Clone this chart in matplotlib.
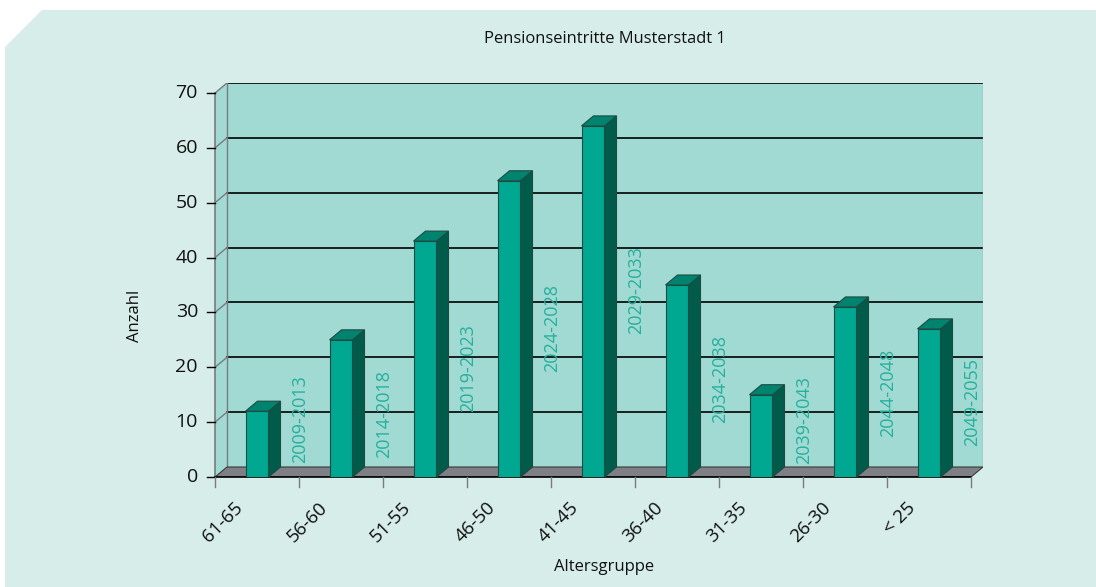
import matplotlib
matplotlib.use("Agg")
import matplotlib.pyplot as plt
from matplotlib.patches import Polygon, Rectangle

# data
groups = ["61-65", "56-60", "51-55", "46-50", "41-45", "36-40", "31-35", "26-30", "< 25"]
counts = [12, 25, 43, 54, 64, 35, 15, 31, 27]
periods = ["2009-2013", "2014-2018", "2019-2023", "2024-2028", "2029-2033",
           "2034-2038", "2039-2043", "2044-2048", "2049-2055"]
period_y = [2.5, 3.5, 11.9, 19.2, 26.0, 9.8, 2.4, 7.3, 5.7]
yticks = [0, 10, 20, 30, 40, 50, 60, 70]

plt.rcParams['font.family'] = ['Open Sans', 'DejaVu Sans']

W, H = 1096, 587
fig = plt.figure(figsize=(W / 100, H / 100), dpi=100)
fig.patch.set_facecolor("white")

# light panel with cut corner
panel = [(5, 47), (42, 10), (1096, 10), (1096, 587), (5, 587)]
fig.patches.append(Polygon([(x / W, 1 - y / H) for x, y in panel], closed=True,
                           transform=fig.transFigure, facecolor="#d7ede9",
                           edgecolor="none", zorder=-5))

DX = 12 / 84.0        # depth offset in category units
DY = 10 / 5.4857      # depth offset in value units
n = len(groups)
ymax = yticks[-1]

ax = fig.add_axes([215 / W, 110 / H, 768 / W, 394 / H])
ax.set_zorder(1)
ax.set_xlim(0, n + DX)
ax.set_ylim(0, ymax + DY)
ax.axis("off")

wall = "#a1d9d3"
gray = "#7a7a80"
ax.add_patch(Rectangle((DX, DY), n, ymax, facecolor=wall, edgecolor="none", zorder=1))
ax.add_patch(Polygon([(0, 0), (DX, DY), (DX, ymax + DY), (0, ymax)], closed=True,
                     facecolor=wall, edgecolor="none", zorder=1))

for v in yticks[1:]:
    ax.plot([DX, n + DX], [v + DY, v + DY], color="black", lw=1.2, zorder=2)
    ax.plot([0, DX], [v, v + DY], color=gray, lw=1, zorder=2)
ax.plot([DX, DX], [DY, ymax + DY], color=gray, lw=1, zorder=2)
ax.plot([n + DX, n + DX], [DY, ymax + DY], color="#9aa4a4", lw=1, zorder=2)
ax.plot([0, 0], [0, ymax], color=gray, lw=1.2, zorder=2, clip_on=False)

# floor
ax.add_patch(Polygon([(0, 0), (n, 0), (n + DX, DY), (DX, DY)], closed=True,
                     facecolor="#7f7f86", edgecolor="#3a3a3a", lw=0.8, zorder=2))
ax.plot([0, n], [0, 0], color="black", lw=1.2, zorder=3, clip_on=False)

# ticks
for v in yticks:
    ax.plot([-8 / 84, 0], [v, v], color="black", lw=1, clip_on=False, zorder=3)
    ax.text(-17 / 84, v, str(v), ha="right", va="center", fontsize=14,
            color="#111111")
for i in range(n + 1):
    ax.plot([i, i], [0, -10 / 5.4857], color=gray, lw=1, clip_on=False, zorder=3)
for i, g in enumerate(groups):
    ax.text(i + 0.3, -28 / 5.4857, g, ha="right", va="center", rotation=45,
            rotation_mode="anchor", fontsize=13.5, color="#111111")

# bars
bw = 23 / 84.0
for i, v in enumerate(counts):
    x0 = i + 0.5 - bw / 2
    ec = "#1e4a42"
    ax.add_patch(Rectangle((x0, 0), bw, v, facecolor="#00a891", edgecolor=ec,
                           lw=0.8, zorder=4))
    ax.add_patch(Polygon([(x0 + bw, 0), (x0 + bw + DX, DY), (x0 + bw + DX, v + DY),
                          (x0 + bw, v)], closed=True, facecolor="#005b4b",
                         edgecolor=ec, lw=0.8, zorder=4))
    ax.add_patch(Polygon([(x0, v), (x0 + bw, v), (x0 + bw + DX, v + DY),
                          (x0 + DX, v + DY)], closed=True, facecolor="#00846f",
                         edgecolor=ec, lw=0.8, zorder=4))

for i, (p, y) in enumerate(zip(periods, period_y)):
    ax.text(i + 1.01, y, p, rotation=90, ha="center", va="bottom", fontsize=13,
            color="#25b09d", zorder=5)

fig.text(605 / W, 1 - 39 / H, "Pensionseintritte Musterstadt 1", ha="center",
         va="center", fontsize=11.9, color="#111111")
fig.text(604 / W, 1 - 567 / H, "Altersgruppe", ha="center", va="center",
         fontsize=12, color="#111111")
fig.text(135 / W, 1 - 316 / H, "Anzahl", ha="center", va="center", rotation=90,
         fontsize=12, color="#111111")

fig.savefig("out.png", dpi=100)
